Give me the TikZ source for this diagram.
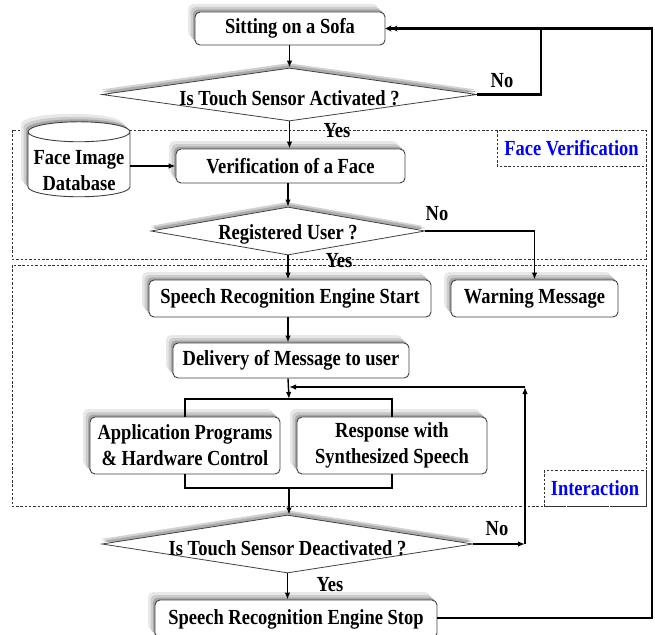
\documentclass[tikz,border=0pt]{standalone}
\usepackage{fontspec}
\setmainfont{Liberation Serif}[FakeStretch=0.86]
\usetikzlibrary{shapes.geometric,shadows,arrows.meta}
\definecolor{labblue}{RGB}{0,0,255}
\begin{document}
\begin{tikzpicture}[x=1pt,y=-1pt,
  font=\fontsize{21.5}{26}\selectfont\bfseries,
  boxsh/.style={
    general shadow={fill=gray!18, shadow xshift=-7pt, shadow yshift=8pt},
    general shadow={fill=gray!40, shadow xshift=-4.5pt, shadow yshift=5pt},
    general shadow={fill=gray!70, shadow xshift=-2pt, shadow yshift=2.5pt}},
  stepbox/.style={boxsh, draw=black!75, line width=0.9pt, rounded corners=5pt,
    fill=white, align=center, inner sep=0pt},
  decision/.style={diamond, draw=black!75, line width=0.8pt, fill=white,
    inner sep=0pt, aspect=6,
    general shadow={fill=gray!35, shadow xshift=-1pt, shadow yshift=5pt},
    general shadow={fill=gray!65, shadow yshift=3pt}},
  dbase/.style={cylinder, shape border rotate=90, aspect=0.22, draw=black!75,
    line width=0.9pt, fill=white, inner sep=0pt, align=center, boxsh},
  region/.style={draw=black!80, line width=0.8pt, dash pattern=on 2.5pt off 1.8pt},
  arr/.style={-{Latex[length=7pt,width=5.5pt]}, line width=1.4pt},
  heavy/.style={line width=2.2pt},
  lab/.style={inner sep=0pt},
  bluelab/.style={text=labblue, inner sep=0pt}
]
\useasboundingbox (0,0) rectangle (655,634);

% regions
\draw[region] (12,130) rectangle (646,259);
\draw[region] (497,130) rectangle (646,166);
\node[bluelab] (fvlab) at (571.5,148) {Face Verification};
\draw[region] (12,265) rectangle (646,506);
\draw[region] (544,470) rectangle (646,506);
\node[bluelab] (inlab) at (595,488) {Interaction};

% nodes
\node[stepbox, minimum width=190pt, minimum height=33pt] (sofa) at (290,28.5) {Sitting on a Sofa};
\node[decision, minimum width=375pt, minimum height=53pt,
  label={[yshift=-4pt]center:Is Touch Sensor Activated ?}] (d1) at (289.5,94.5) {};
\node[dbase, minimum width=102pt, minimum height=75pt,
  label={[yshift=-6pt, align=center]center:Face Image\\Database}] (db) at (79,164.5)
  {\phantom{Face Image}\\\phantom{Database}};
\node[stepbox, minimum width=229pt, minimum height=34pt] (verif) at (290.5,166) {Verification of a Face};
\node[decision, minimum width=274pt, minimum height=48pt,
  label={[yshift=-3pt]center:Registered User ?}] (d2) at (288,231) {};
\node[stepbox, minimum width=282pt, minimum height=37pt] (srstart) at (290,298.5) {Speech Recognition Engine Start};
\node[stepbox, minimum width=167pt, minimum height=37pt] (warn) at (534.5,298.5) {Warning Message};
\node[stepbox, minimum width=236pt, minimum height=35pt] (deliv) at (291,360.5) {Delivery of Message to user};
\node[stepbox, minimum width=190pt, minimum height=57pt] (app) at (185,445.5) {Application Programs\\\& Hardware Control};
\node[stepbox, minimum width=190pt, minimum height=57pt] (resp) at (392,445.5) {Response with\\Synthesized Speech};
\node[decision, minimum width=371pt, minimum height=58pt,
  label={[yshift=-4pt]center:Is Touch Sensor Deactivated ?}] (d3) at (287.5,544) {};
\node[stepbox, minimum width=282pt, minimum height=38pt] (stop) at (296,619) {Speech Recognition Engine Stop};

% coordinates
\coordinate (n1) at (541,28.5);
\coordinate (r2) at (652,28.5);
\coordinate (r1) at (652,618);
\coordinate (bt) at (289,399);
\coordinate (bb) at (289,488);
\coordinate (j1) at (289,387);
\coordinate (lt) at (525,387);
\coordinate (lp) at (525,544);

% connectors
\draw[arr] (sofa.south -| d1.north) -- (d1.north);
\draw[arr] (d1.south) -- (d1.south |- verif.north);
\node[lab] (yes1) at (337,131) {Yes};
\draw[heavy] (d1.east) -| (n1);
\node[lab] (no1) at (502,81) {No};
\draw[heavy, {Stealth[length=6pt,width=6pt]Stealth[length=6pt,width=6pt]}-] (sofa.east) -- (r2) -- (r1) -- (r1 -| stop.east);
\draw[arr] (db.east |- verif.west) -- (verif.west);
\draw[arr] (verif.south -| d2.north) -- (d2.north);
\draw[arr] (d2.south) -- (d2.south |- srstart.north);
\node[lab] (yes2) at (339,261) {Yes};
\draw[arr] (d2.east) -| (warn.north);
\node[lab] (no2) at (437,214) {No};
\draw[arr] (d2.south |- srstart.south) -- (d2.south |- deliv.north);
\draw[arr] (d2.south |- deliv.south) -- (bt);
\draw[heavy] (app.north) |- (bt) -| (resp.north);
\draw[heavy] (app.south) |- (bb) -| (resp.south);
\draw[arr] (bb) -- (bb |- d3.north);
\draw[arr] (d3.east) -- (lp);
\node[lab] (no3) at (497,529) {No};
\draw[arr, line width=1.7pt] (lp) -- (lt);
\draw[arr, line width=1.7pt] (lt) -- (j1);
\draw[arr] (d3.south) -- (d3.south |- stop.north);
\node[lab] (yes3) at (330,585) {Yes};
\end{tikzpicture}
\end{document}
